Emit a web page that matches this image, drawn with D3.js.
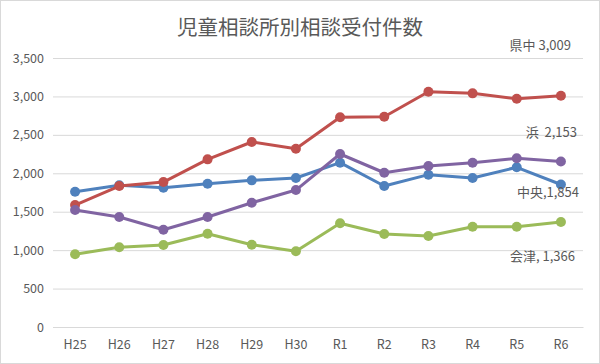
<!DOCTYPE html>
<html><head><meta charset="utf-8">
<script src="https://cdn.jsdelivr.net/npm/d3@7"></script>
<style>body{margin:0;background:#fff}svg{display:block}</style>
</head><body>
<script>
const categories = ["H25","H26","H27","H28","H29","H30","R1","R2","R3","R4","R5","R6"];
const chuo   = [1760,1843,1812,1864,1908,1939,2138,1834,1982,1939,2078,1854];
const kenchu = [1587,1834,1886,2181,2407,2320,2728,2736,3061,3040,2970,3009];
const hama   = [1522,1431,1266,1431,1617,1782,2251,2007,2095,2137,2195,2153];
const aizu   = [946,1037,1067,1214,1071,985,1349,1210,1184,1305,1305,1366];
const seriesNames = ["中央","県中","浜","会津"];
const endLabels = ["中央,1,854","県中 3,009","浜  2,153","会津, 1,366"];
const yTicks = [0,500,1000,1500,2000,2500,3000,3500];
const title = "児童相談所別相談受付件数";

const W = 600, H = 364;
const colors = ["#4F81BD","#C0504D","#8064A2","#9BBB59"];
const font = "'Noto Sans CJK JP','Noto Sans',sans-serif";
const series = [chuo, kenchu, hama, aizu];

const svg = d3.select("body").append("svg").attr("width", W).attr("height", H);
svg.append("rect").attr("x",0.5).attr("y",0.5).attr("width",W-1).attr("height",H-1)
  .attr("fill","#fff").attr("stroke","#d9d9d9");

const x = d3.scaleBand().domain(categories).range([53, 583]);
const y = d3.scaleLinear().domain([0, 3500]).range([327, 58]);

svg.append("text").attr("x", 300).attr("y", 35).attr("text-anchor","middle")
  .attr("font-family", font).attr("font-size", 20.5).attr("fill","#595959").text(title);

const yAxis = svg.append("g").attr("transform","translate(53,0)")
  .call(d3.axisLeft(y).tickValues(yTicks).tickSize(-530).tickFormat(d3.format(",")).tickPadding(9));
yAxis.select(".domain").remove();
yAxis.selectAll(".tick line").attr("stroke","#d9d9d9").attr("stroke-width",1);
yAxis.selectAll(".tick text").attr("font-family", font).attr("font-size", 12.5).attr("fill","#595959");

const xAxis = svg.append("g").attr("transform","translate(0,327)")
  .call(d3.axisBottom(x).tickSize(0).tickPadding(13));
xAxis.select(".domain").attr("stroke","#d9d9d9");
xAxis.selectAll(".tick text").attr("font-family", font).attr("font-size", 12.5).attr("fill","#595959");

const cx = d => x(d) + x.bandwidth()/2;
const line = d3.line().x((d,i) => cx(categories[i])).y(d => y(d));

series.forEach((s, k) => {
  svg.append("path").datum(s).attr("d", line).attr("fill","none")
    .attr("stroke", colors[k]).attr("stroke-width", 3).attr("stroke-linejoin","round");
  svg.selectAll(null).data(s).enter().append("circle")
    .attr("cx", (d,i) => cx(categories[i])).attr("cy", d => y(d)).attr("r", 5)
    .attr("fill", colors[k]);
});

const labelPos = [[579,197],[571,50],[577,137],[575,261]];
endLabels.forEach((t,k) => {
  svg.append("text").attr("x", labelPos[k][0]).attr("y", labelPos[k][1])
    .attr("text-anchor","end").attr("font-family", font).attr("font-size", 13)
    .attr("fill","#595959").style("white-space","pre").text(t);
});
</script>
</body></html>
